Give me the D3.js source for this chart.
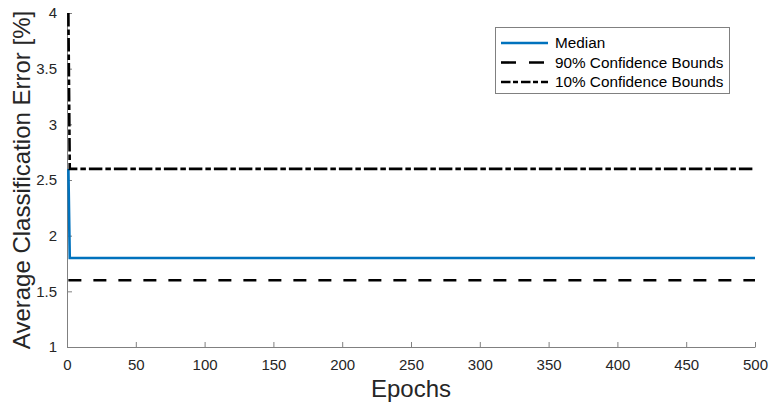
<!DOCTYPE html>
<html><head><meta charset="utf-8">
<script src="https://cdn.jsdelivr.net/npm/d3@7"></script>
<style>
body{margin:0;background:#fff;}
text{font-family:"Liberation Sans",Arial,Helvetica,sans-serif;}
</style></head>
<body>
<svg id="chart" width="769" height="402"></svg>
<script>
const epochs = [1, 2, 500];
const medianVals = [2.6, 1.8, 1.8];
const bound90Vals = [1.6, 1.6, 1.6];
const bound10Vals = [4.0, 2.6, 2.6];
const xTicks = [0, 50, 100, 150, 200, 250, 300, 350, 400, 450, 500];
const yTicks = [1, 1.5, 2, 2.5, 3, 3.5, 4];
const legendLabels = ["Median", "90% Confidence Bounds", "10% Confidence Bounds"];

const svg = d3.select("#chart");
const L = 67, R = 755, T = 13, B = 347;
const x = d3.scaleLinear().domain([0, 500]).range([L, R]);
const y = d3.scaleLinear().domain([1, 4]).range([B, T]);
const axisColor = "#808080", textColor = "#262626";

svg.append("defs").append("clipPath").attr("id", "clip")
  .append("rect").attr("x", L).attr("y", T).attr("width", R - L).attr("height", B - T);

// axes
const xAxis = svg.append("g").attr("transform", `translate(0,${B})`)
  .call(d3.axisBottom(x).tickValues(xTicks).tickFormat(d3.format("d")).tickSizeInner(-5).tickSizeOuter(0).tickPadding(12));
const yAxis = svg.append("g").attr("transform", `translate(${L},0)`)
  .call(d3.axisLeft(y).tickValues(yTicks).tickFormat(d => d3.format("")(d)).tickSizeInner(-5).tickSizeOuter(0).tickPadding(10));
[xAxis, yAxis].forEach(g => {
  g.select(".domain").attr("stroke", axisColor).attr("stroke-width", 1);
  g.selectAll(".tick line").attr("stroke", axisColor);
  g.selectAll(".tick text").attr("fill", textColor).style("font-size", "15px")
    .style("font-family", '"Liberation Sans",Arial,sans-serif');
});

const plot = svg.append("g").attr("clip-path", "url(#clip)");
const line = vals => d3.line().x((d, i) => x(epochs[i])).y(d => y(d))(vals);

const styles = [
  {vals: medianVals, color: "#0072BD", dash: null},
  {vals: bound90Vals, color: "#000", dash: "13,12"},
  {vals: bound10Vals, color: "#000", dash: "13.5,3,5.5,3"}
];
styles.forEach(s => {
  plot.append("path").attr("d", line(s.vals)).attr("fill", "none")
    .attr("stroke", s.color).attr("stroke-width", 2.6)
    .attr("stroke-dasharray", s.dash);
});

// labels
svg.append("text").attr("x", (L + R) / 2).attr("y", 397).attr("text-anchor", "middle")
  .attr("fill", textColor).style("font-size", "24px").text("Epochs");
svg.append("text").attr("transform", `translate(30,${(T + B) / 2}) rotate(-90)`)
  .attr("text-anchor", "middle").attr("fill", textColor).style("font-size", "24px")
  .text("Average Classification Error [%]");

// legend
const lg = svg.append("g");
lg.append("rect").attr("x", 495.5).attr("y", 27.5).attr("width", 234).attr("height", 66)
  .attr("fill", "#fff").attr("stroke", axisColor).attr("stroke-width", 1);
const legendDash = [null, "15,13", "9.5,2.5,5,3"];
legendLabels.forEach((lab, i) => {
  const yy = 43 + i * 19.5;
  lg.append("line").attr("x1", 501).attr("x2", 548).attr("y1", yy).attr("y2", yy)
    .attr("stroke", styles[i].color).attr("stroke-width", 2.6).attr("stroke-dasharray", legendDash[i]);
  lg.append("text").attr("x", 555).attr("y", yy + 5).attr("fill", "#000")
    .style("font-size", "15.3px").text(lab);
});
</script>
</body></html>
